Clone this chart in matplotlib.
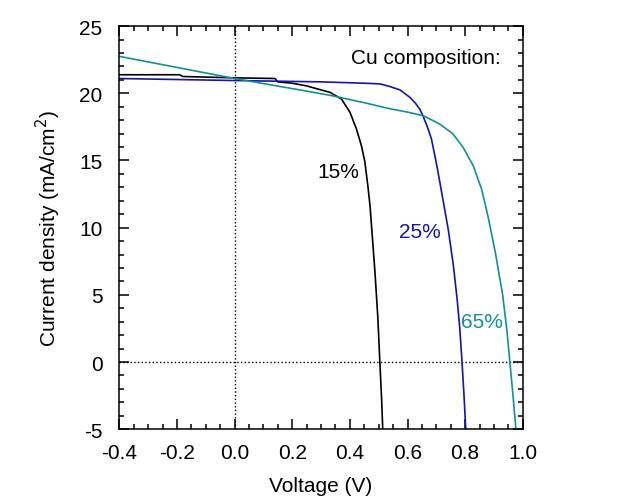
import matplotlib.pyplot as plt
from matplotlib.ticker import MultipleLocator

plt.rcParams['font.family'] = ['Liberation Sans', 'DejaVu Sans']
plt.rcParams['axes.unicode_minus'] = False

# J-V curves for each Cu composition
v_15 = [-0.4, -0.19, -0.18, 0.0, 0.14, 0.15, 0.2, 0.25, 0.3, 0.331, 0.371, 0.40,
        0.423, 0.44, 0.452, 0.463, 0.47, 0.487, 0.497, 0.504, 0.51, 0.514]
j_15 = [21.38, 21.38, 21.25, 21.15, 21.1, 20.85, 20.75, 20.55, 20.25, 20.07, 19.57, 18.6,
        17.33, 16.1, 14.9, 13.0, 11.6, 6.7, 3.3, 0.0, -2.7, -5.0]

v_25 = [-0.4, 0.0, 0.3, 0.45, 0.505, 0.539, 0.574, 0.608, 0.628, 0.643, 0.653, 0.668,
        0.683, 0.7, 0.712, 0.741, 0.759, 0.772, 0.781, 0.789, 0.796, 0.802]
j_25 = [21.1, 20.95, 20.85, 20.75, 20.7, 20.5, 20.25, 19.7, 19.25, 18.8, 18.35, 17.55,
        16.6, 14.8, 13.4, 9.9, 7.2, 4.7, 2.6, 0.0, -2.5, -5.0]

v_65 = [-0.4, 0.0, 0.2, 0.331, 0.45, 0.539, 0.6, 0.655, 0.712, 0.758, 0.793, 0.828,
        0.857, 0.880, 0.905, 0.93, 0.945, 0.955, 0.966, 0.976]
j_65 = [22.75, 21.1, 20.35, 19.85, 19.3, 18.85, 18.6, 18.33, 17.71, 16.97, 15.97, 14.6,
        12.87, 10.76, 8.1, 5.0, 2.3, 0.0, -2.5, -5.0]

c_15 = 'black'
c_25 = '#1414a8'
c_65 = '#13908f'

fig = plt.figure(figsize=(6.18, 5.02), dpi=100)
ax = fig.add_axes([0.193, 0.143, 0.653, 0.803])

ax.axvline(0, color='black', ls=':', lw=1)
ax.axhline(0, color='black', ls=':', lw=1)

ax.plot(v_15, j_15, color=c_15, lw=1.2)
ax.plot(v_25, j_25, color=c_25, lw=1.2)
ax.plot(v_65, j_65, color=c_65, lw=1.2)

ax.text(0.359, 14.2, '15%', color=c_15, fontsize=15, ha='center', va='center')
ax.text(0.643, 9.7, '25%', color=c_25, fontsize=15, ha='center', va='center')
ax.text(0.858, 3.0, '65%', color=c_65, fontsize=15, ha='center', va='center')
ax.text(0.404, 22.7, 'Cu composition:', fontsize=15, ha='left', va='center')

ax.set_xlim(-0.4, 1.0)
ax.set_ylim(-5, 25)
ax.xaxis.set_major_locator(MultipleLocator(0.2))
ax.xaxis.set_minor_locator(MultipleLocator(0.05))
ax.yaxis.set_major_locator(MultipleLocator(5))
ax.yaxis.set_minor_locator(MultipleLocator(1))
ax.xaxis.set_major_formatter(lambda x, pos: f'{x:.1f}')

ax.tick_params(which='both', direction='in', top=True, right=True, width=1.1,
               labelsize=15)
ax.tick_params(which='major', length=7)
ax.tick_params(which='minor', length=3.8)
ax.tick_params(axis='x', which='major', pad=10)
ax.tick_params(axis='y', which='major', pad=12)
for s in ax.spines.values():
    s.set_linewidth(1.1)

ax.set_xlabel('Voltage (V)', fontsize=15, labelpad=10)
ax.set_ylabel('Current density (mA/cm$^2$)', fontsize=15, labelpad=12)

plt.savefig('out.png', dpi=100)
